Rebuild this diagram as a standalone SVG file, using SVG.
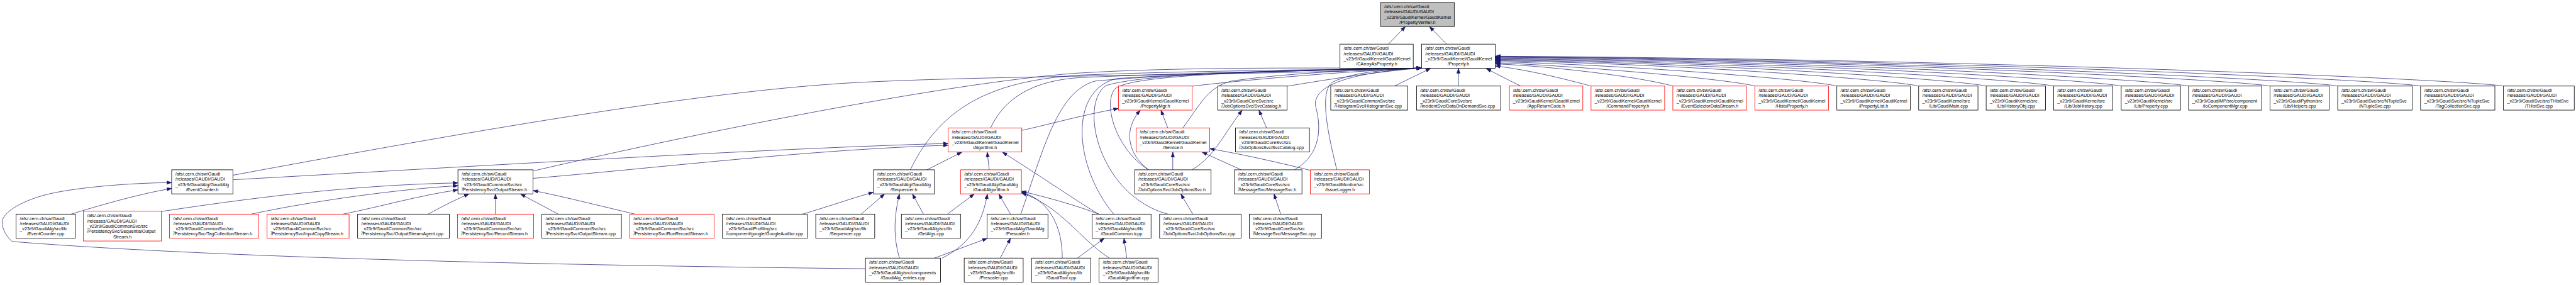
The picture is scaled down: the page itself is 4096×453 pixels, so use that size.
<svg xmlns="http://www.w3.org/2000/svg" width="4096" height="453" viewBox="0 0 4096 453">
<style>
.n rect{fill:#fff;stroke:#000;stroke-width:1.5}
.r rect{stroke:#ff0000}
.g rect{fill:#bfbfbf}
text{font-family:"Liberation Sans",Arial,Helvetica,sans-serif;font-size:13px;fill:#000}
.m{text-anchor:middle}
#edges path{fill:none;stroke:#191970;stroke-width:1.3;marker-end:url(#a)}
</style>
<defs>
<marker id="a" markerUnits="userSpaceOnUse" markerWidth="15" markerHeight="12" refX="14" refY="5.5" orient="auto" viewBox="0 0 15 12"><path d="M0,0.5 L14,5.5 L0,10.5 z" fill="#191970" stroke="#191970" stroke-width="1"/></marker>
</defs>
<rect width="4096" height="453" fill="#fff"/>
<g transform="scale(0.554788)">
<g id="edges">
<path d="M3979,126.5 L4028,76"/>
<path d="M4146,126.5 L4097,76"/>
<path d="M3996.5,246.5 L4100,196"/>
<path d="M4180,246.5 L4180,196"/>
<path d="M4359,246.5 C4330,233 4290,212 4260,196.5"/>
<path d="M4560,246.5 C4480,225 4380,200 4286,189"/>
<path d="M4794.5,246.5 C4700,220 4450,190 4286,183"/>
<path d="M5029.5,246.5 C4960,228 4550,190 4286,180"/>
<path d="M5264.5,246.5 C5190,228 4650,185 4286,177"/>
<path d="M5499,246.5 C5420,228 4800,182 4286,174"/>
<path d="M5692.5,246.5 C5610,228 4900,180 4286,172"/>
<path d="M5886,246.5 C5800,228 5000,178 4286,170"/>
<path d="M6079.5,246.5 C5990,228 5100,176 4286,168"/>
<path d="M6272.5,246.5 C6180,228 5200,174 4286,166"/>
<path d="M6506,246.5 C6400,228 5300,172 4286,164"/>
<path d="M6700,246.5 C6600,228 5400,171 4286,163"/>
<path d="M6937.5,246.5 C6830,228 5550,170 4286,162"/>
<path d="M7175,246.5 C7060,228 5700,169 4286,161"/>
<path d="M667.5,502 C1300,385 2000,260 2464,236 C2900,214 3700,215 4074,195"/>
<path d="M1527.4,490 C2000,380 2700,240 3080,210 C3400,190 3800,196 4074,195"/>
<path d="M2609,486.5 C2700,300 2850,230 3100,215 C3500,200 3850,200 4074,195"/>
<path d="M2839,366.5 C2880,280 2960,230 3100,222 C3500,205 3850,200 4074,195"/>
<path d="M2925.6,613.5 C2990,430 3030,260 3140,232 C3450,205 3850,200 4074,195"/>
<path d="M3192,613.5 C3080,480 3060,260 3200,225 C3500,205 3850,200 4074,195"/>
<path d="M3347,613.5 C3150,560 3090,300 3170,245 C3300,205 3800,200 4074,195"/>
<path d="M3292,486.5 C3200,430 3160,300 3195,255 C3240,210 3700,203 4074,195"/>
<path d="M3390,366.5 C3440,300 3460,250 3530,232 C3700,208 3900,200 4074,195"/>
<path d="M3416,247 C3600,225 3900,202 4074,195"/>
<path d="M3689,247 C3850,220 3980,202 4074,195"/>
<path d="M3710,486.5 C3790,440 3785,360 3772,310 C3755,250 3850,210 4074,194"/>
<path d="M3831.5,486.5 C3805,380 3780,260 3820,235 C3880,205 3980,200 4074,195"/>
<path d="M2928.4,373.6 C3000,358 3100,330 3205,311"/>
<path d="M667.5,515 C1300,480 2200,425 2717,411"/>
<path d="M1527.4,511 C1900,480 2300,430 2717,416"/>
<path d="M2480.5,770 C1800,762 700,745 35,692 C20,680 5,655 6,635 C8,610 60,572 157,552 C260,532 400,524 492,523"/>
<path d="M204,613.5 C280,590 400,555 492,540"/>
<path d="M462,606 C700,570 1000,530 1312.5,524"/>
<path d="M720,613.5 C850,585 1100,545 1312.5,532"/>
<path d="M983,613.5 C1100,590 1200,560 1312.5,544"/>
<path d="M1227,613.5 C1270,590 1310,570 1344,556"/>
<path d="M1420,613.5 L1420,556"/>
<path d="M1600,613.5 L1492,556"/>
<path d="M1820,613.5 C1700,585 1600,560 1528,546"/>
<path d="M2300,613.5 C2380,590 2450,565 2503,551"/>
<path d="M2468,613.5 L2535,556"/>
<path d="M2646.7,613.5 L2615.3,556"/>
<path d="M2578,739.5 C2560,680 2562,620 2578,556"/>
<path d="M2656.5,486.5 L2756.7,436"/>
<path d="M2835.3,486.5 L2829.4,436"/>
<path d="M2715.4,613.5 L2792,556"/>
<path d="M2896,613.5 L2862.7,556"/>
<path d="M2700,739.5 C2780,700 2815,640 2830,556"/>
<path d="M2678,739.5 L2829.4,683"/>
<path d="M2866.7,739.5 L2896,683"/>
<path d="M3149,613.5 C3100,585 2960,490 2873,436"/>
<path d="M3149,613.5 C3090,590 3000,565 2928,548"/>
<path d="M3044.6,739.5 C3045,640 3000,570 2928,551"/>
<path d="M3180,739.5 C3100,690 3040,590 2928,553"/>
<path d="M3292,486.5 C3230,440 3220,370 3268,316"/>
<path d="M3347,366.5 L3327.5,316"/>
<path d="M3361.3,486.5 L3361.3,436"/>
<path d="M3416,486.5 C3480,450 3510,380 3560,316"/>
<path d="M3630,366.5 L3608.4,316"/>
<path d="M3557.3,486.5 L3445.4,436"/>
<path d="M3670.5,613.5 L3651.6,556"/>
<path d="M3418.6,613.5 L3384.5,556"/>
<path d="M3229.3,739.5 L3221.4,683"/>
<path d="M3088,739.5 L3164.5,683"/>
<path d="M3755.5,488 C3650,462 3550,440 3467,426"/>
</g>
<g id="n_propverifier" class="n g"><rect x="3957" y="7" width="211" height="69"/><text><tspan x="3967.5" y="23.5">/afs/.cern.ch/sw/Gaudi</tspan><tspan x="3967.5" y="38.5">/releases/GAUDI/GAUDI</tspan><tspan x="3967.5" y="53.5">_v23r9/GaudiKernel/GaudiKernel</tspan><tspan class="m" x="4062.5" y="68.5">/PropertyVerifier.h</tspan></text></g>
<g id="n_carray" class="n"><rect x="3840.5" y="126.5" width="210" height="69"/><text><tspan x="3851" y="143">/afs/.cern.ch/sw/Gaudi</tspan><tspan x="3851" y="158">/releases/GAUDI/GAUDI</tspan><tspan x="3851" y="173">_v23r9/GaudiKernel/GaudiKernel</tspan><tspan class="m" x="3945.5" y="188">/CArrayAsProperty.h</tspan></text></g>
<g id="n_property" class="n"><rect x="4074.5" y="126.5" width="211" height="69"/><text><tspan x="4085" y="143">/afs/.cern.ch/sw/Gaudi</tspan><tspan x="4085" y="158">/releases/GAUDI/GAUDI</tspan><tspan x="4085" y="173">_v23r9/GaudiKernel/GaudiKernel</tspan><tspan class="m" x="4180" y="188">/Property.h</tspan></text></g>
<g id="n_propertymgr" class="n r"><rect x="3205.5" y="246.5" width="211" height="69"/><text><tspan x="3216" y="263">/afs/.cern.ch/sw/Gaudi</tspan><tspan x="3216" y="278">/releases/GAUDI/GAUDI</tspan><tspan x="3216" y="293">_v23r9/GaudiKernel/GaudiKernel</tspan><tspan class="m" x="3311" y="308">/PropertyMgr.h</tspan></text></g>
<g id="n_svccatalog_h" class="n"><rect x="3490" y="246.5" width="199" height="69"/><text><tspan x="3500.5" y="263">/afs/.cern.ch/sw/Gaudi</tspan><tspan x="3500.5" y="278">/releases/GAUDI/GAUDI</tspan><tspan x="3500.5" y="293">_v23r9/GaudiCoreSvc/src</tspan><tspan x="3500.5" y="308">/JobOptionsSvc/SvcCatalog.h</tspan></text></g>
<g id="n_histsvc" class="n"><rect x="3814" y="246.5" width="221" height="69"/><text><tspan x="3824.5" y="263">/afs/.cern.ch/sw/Gaudi</tspan><tspan x="3824.5" y="278">/releases/GAUDI/GAUDI</tspan><tspan x="3824.5" y="293">_v23r9/GaudiCommonSvc/src</tspan><tspan x="3824.5" y="308">/HistogramSvc/HistogramSvc.cpp</tspan></text></g>
<g id="n_dataondemand" class="n"><rect x="4060" y="246.5" width="241" height="69"/><text><tspan x="4070.5" y="263">/afs/.cern.ch/sw/Gaudi</tspan><tspan x="4070.5" y="278">/releases/GAUDI/GAUDI</tspan><tspan x="4070.5" y="293">_v23r9/GaudiCoreSvc/src</tspan><tspan x="4070.5" y="308">/IncidentSvc/DataOnDemandSvc.cpp</tspan></text></g>
<g id="n_appreturn" class="n r"><rect x="4326" y="246.5" width="210.5" height="69"/><text><tspan x="4336.5" y="263">/afs/.cern.ch/sw/Gaudi</tspan><tspan x="4336.5" y="278">/releases/GAUDI/GAUDI</tspan><tspan x="4336.5" y="293">_v23r9/GaudiKernel/GaudiKernel</tspan><tspan class="m" x="4431.25" y="308">/AppReturnCode.h</tspan></text></g>
<g id="n_commandprop" class="n r"><rect x="4560" y="246.5" width="211" height="69"/><text><tspan x="4570.5" y="263">/afs/.cern.ch/sw/Gaudi</tspan><tspan x="4570.5" y="278">/releases/GAUDI/GAUDI</tspan><tspan x="4570.5" y="293">_v23r9/GaudiKernel/GaudiKernel</tspan><tspan class="m" x="4665.5" y="308">/CommandProperty.h</tspan></text></g>
<g id="n_evtseldatastream" class="n r"><rect x="4794.5" y="246.5" width="211" height="69"/><text><tspan x="4805" y="263">/afs/.cern.ch/sw/Gaudi</tspan><tspan x="4805" y="278">/releases/GAUDI/GAUDI</tspan><tspan x="4805" y="293">_v23r9/GaudiKernel/GaudiKernel</tspan><tspan class="m" x="4900" y="308">/EventSelectorDataStream.h</tspan></text></g>
<g id="n_histoprop" class="n r"><rect x="5029.5" y="246.5" width="211" height="69"/><text><tspan x="5040" y="263">/afs/.cern.ch/sw/Gaudi</tspan><tspan x="5040" y="278">/releases/GAUDI/GAUDI</tspan><tspan x="5040" y="293">_v23r9/GaudiKernel/GaudiKernel</tspan><tspan class="m" x="5135" y="308">/HistoProperty.h</tspan></text></g>
<g id="n_proplist" class="n"><rect x="5264.5" y="246.5" width="210.5" height="69"/><text><tspan x="5275" y="263">/afs/.cern.ch/sw/Gaudi</tspan><tspan x="5275" y="278">/releases/GAUDI/GAUDI</tspan><tspan x="5275" y="293">_v23r9/GaudiKernel/GaudiKernel</tspan><tspan class="m" x="5369.75" y="308">/PropertyList.h</tspan></text></g>
<g id="n_gaudimain" class="n"><rect x="5499" y="246.5" width="170" height="69"/><text><tspan x="5509.5" y="263">/afs/.cern.ch/sw/Gaudi</tspan><tspan x="5509.5" y="278">/releases/GAUDI/GAUDI</tspan><tspan x="5509.5" y="293">_v23r9/GaudiKernel/src</tspan><tspan class="m" x="5584" y="308">/Lib/GaudiMain.cpp</tspan></text></g>
<g id="n_historyobj" class="n"><rect x="5692.5" y="246.5" width="170" height="69"/><text><tspan x="5703" y="263">/afs/.cern.ch/sw/Gaudi</tspan><tspan x="5703" y="278">/releases/GAUDI/GAUDI</tspan><tspan x="5703" y="293">_v23r9/GaudiKernel/src</tspan><tspan class="m" x="5777.5" y="308">/Lib/HistoryObj.cpp</tspan></text></g>
<g id="n_jobhistory" class="n"><rect x="5886" y="246.5" width="169.5" height="69"/><text><tspan x="5896.5" y="263">/afs/.cern.ch/sw/Gaudi</tspan><tspan x="5896.5" y="278">/releases/GAUDI/GAUDI</tspan><tspan x="5896.5" y="293">_v23r9/GaudiKernel/src</tspan><tspan class="m" x="5970.75" y="308">/Lib/JobHistory.cpp</tspan></text></g>
<g id="n_propertycpp" class="n"><rect x="6079.5" y="246.5" width="170" height="69"/><text><tspan x="6090" y="263">/afs/.cern.ch/sw/Gaudi</tspan><tspan x="6090" y="278">/releases/GAUDI/GAUDI</tspan><tspan x="6090" y="293">_v23r9/GaudiKernel/src</tspan><tspan class="m" x="6164.5" y="308">/Lib/Property.cpp</tspan></text></g>
<g id="n_iocomp" class="n"><rect x="6272.5" y="246.5" width="209.5" height="69"/><text><tspan x="6283" y="263">/afs/.cern.ch/sw/Gaudi</tspan><tspan x="6283" y="278">/releases/GAUDI/GAUDI</tspan><tspan x="6283" y="293">_v23r9/GaudiMP/src/component</tspan><tspan class="m" x="6377.25" y="308">/IoComponentMgr.cpp</tspan></text></g>
<g id="n_helpers" class="n"><rect x="6506" y="246.5" width="169.5" height="69"/><text><tspan x="6516.5" y="263">/afs/.cern.ch/sw/Gaudi</tspan><tspan x="6516.5" y="278">/releases/GAUDI/GAUDI</tspan><tspan x="6516.5" y="293">_v23r9/GaudiPython/src</tspan><tspan class="m" x="6590.75" y="308">/Lib/Helpers.cpp</tspan></text></g>
<g id="n_ntuplesvc" class="n"><rect x="6700" y="246.5" width="213.5" height="69"/><text><tspan x="6710.5" y="263">/afs/.cern.ch/sw/Gaudi</tspan><tspan x="6710.5" y="278">/releases/GAUDI/GAUDI</tspan><tspan x="6710.5" y="293">_v23r9/GaudiSvc/src/NTupleSvc</tspan><tspan class="m" x="6806.75" y="308">/NTupleSvc.cpp</tspan></text></g>
<g id="n_tagcolsvc" class="n"><rect x="6937.5" y="246.5" width="213" height="69"/><text><tspan x="6948" y="263">/afs/.cern.ch/sw/Gaudi</tspan><tspan x="6948" y="278">/releases/GAUDI/GAUDI</tspan><tspan x="6948" y="293">_v23r9/GaudiSvc/src/NTupleSvc</tspan><tspan class="m" x="7044" y="308">/TagCollectionSvc.cpp</tspan></text></g>
<g id="n_thistsvc" class="n"><rect x="7175" y="246.5" width="203" height="69"/><text><tspan x="7185.5" y="263">/afs/.cern.ch/sw/Gaudi</tspan><tspan x="7185.5" y="278">/releases/GAUDI/GAUDI</tspan><tspan x="7185.5" y="293">_v23r9/GaudiSvc/src/THistSvc</tspan><tspan class="m" x="7276.5" y="308">/THistSvc.cpp</tspan></text></g>
<g id="n_algorithm" class="n r"><rect x="2717.5" y="366.5" width="211" height="69"/><text><tspan x="2728" y="383">/afs/.cern.ch/sw/Gaudi</tspan><tspan x="2728" y="398">/releases/GAUDI/GAUDI</tspan><tspan x="2728" y="413">_v23r9/GaudiKernel/GaudiKernel</tspan><tspan class="m" x="2823" y="428">/Algorithm.h</tspan></text></g>
<g id="n_service" class="n r"><rect x="3256" y="366.5" width="211" height="69"/><text><tspan x="3266.5" y="383">/afs/.cern.ch/sw/Gaudi</tspan><tspan x="3266.5" y="398">/releases/GAUDI/GAUDI</tspan><tspan x="3266.5" y="413">_v23r9/GaudiKernel/GaudiKernel</tspan><tspan class="m" x="3361.5" y="428">/Service.h</tspan></text></g>
<g id="n_svccatalog_cpp" class="n"><rect x="3541" y="366.5" width="212" height="69"/><text><tspan x="3551.5" y="383">/afs/.cern.ch/sw/Gaudi</tspan><tspan x="3551.5" y="398">/releases/GAUDI/GAUDI</tspan><tspan x="3551.5" y="413">_v23r9/GaudiCoreSvc/src</tspan><tspan x="3551.5" y="428">/JobOptionsSvc/SvcCatalog.cpp</tspan></text></g>
<g id="n_eventcounter_h" class="n"><rect x="492" y="486.5" width="175.5" height="69"/><text><tspan x="502.5" y="503">/afs/.cern.ch/sw/Gaudi</tspan><tspan x="502.5" y="518">/releases/GAUDI/GAUDI</tspan><tspan x="502.5" y="533">_v23r9/GaudiAlg/GaudiAlg</tspan><tspan class="m" x="579.75" y="548">/EventCounter.h</tspan></text></g>
<g id="n_outputstream_h" class="n"><rect x="1312.5" y="486.5" width="215" height="69"/><text><tspan x="1323" y="503">/afs/.cern.ch/sw/Gaudi</tspan><tspan x="1323" y="518">/releases/GAUDI/GAUDI</tspan><tspan x="1323" y="533">_v23r9/GaudiCommonSvc/src</tspan><tspan x="1323" y="548">/PersistencySvc/OutputStream.h</tspan></text></g>
<g id="n_sequencer_h" class="n"><rect x="2503.5" y="486.5" width="174.5" height="69"/><text><tspan x="2514" y="503">/afs/.cern.ch/sw/Gaudi</tspan><tspan x="2514" y="518">/releases/GAUDI/GAUDI</tspan><tspan x="2514" y="533">_v23r9/GaudiAlg/GaudiAlg</tspan><tspan class="m" x="2590.75" y="548">/Sequencer.h</tspan></text></g>
<g id="n_gaudialgorithm_h" class="n r"><rect x="2753" y="486.5" width="174.5" height="69"/><text><tspan x="2763.5" y="503">/afs/.cern.ch/sw/Gaudi</tspan><tspan x="2763.5" y="518">/releases/GAUDI/GAUDI</tspan><tspan x="2763.5" y="533">_v23r9/GaudiAlg/GaudiAlg</tspan><tspan class="m" x="2840.25" y="548">/GaudiAlgorithm.h</tspan></text></g>
<g id="n_joboptionssvc_h" class="n"><rect x="3252" y="486.5" width="219" height="69"/><text><tspan x="3262.5" y="503">/afs/.cern.ch/sw/Gaudi</tspan><tspan x="3262.5" y="518">/releases/GAUDI/GAUDI</tspan><tspan x="3262.5" y="533">_v23r9/GaudiCoreSvc/src</tspan><tspan x="3262.5" y="548">/JobOptionsSvc/JobOptionsSvc.h</tspan></text></g>
<g id="n_messagesvc_h" class="n"><rect x="3538" y="486.5" width="193.5" height="69"/><text><tspan x="3548.5" y="503">/afs/.cern.ch/sw/Gaudi</tspan><tspan x="3548.5" y="518">/releases/GAUDI/GAUDI</tspan><tspan x="3548.5" y="533">_v23r9/GaudiCoreSvc/src</tspan><tspan x="3548.5" y="548">/MessageSvc/MessageSvc.h</tspan></text></g>
<g id="n_issuelogger" class="n r"><rect x="3755.5" y="486.5" width="169.5" height="69"/><text><tspan x="3766" y="503">/afs/.cern.ch/sw/Gaudi</tspan><tspan x="3766" y="518">/releases/GAUDI/GAUDI</tspan><tspan x="3766" y="533">_v23r9/GaudiMonitor/src</tspan><tspan class="m" x="3840.25" y="548">/IssueLogger.h</tspan></text></g>
<g id="n_eventcounter_cpp" class="n"><rect x="46" y="613.5" width="170" height="69"/><text><tspan x="56.5" y="630">/afs/.cern.ch/sw/Gaudi</tspan><tspan x="56.5" y="645">/releases/GAUDI/GAUDI</tspan><tspan x="56.5" y="660">_v23r9/GaudiAlg/src/lib</tspan><tspan class="m" x="131" y="675">/EventCounter.cpp</tspan></text></g>
<g id="n_seqoutstream" class="n r"><rect x="239" y="605" width="223.5" height="85.5"/><text><tspan x="249.5" y="622.25">/afs/.cern.ch/sw/Gaudi</tspan><tspan x="249.5" y="637.25">/releases/GAUDI/GAUDI</tspan><tspan x="249.5" y="652.25">_v23r9/GaudiCommonSvc/src</tspan><tspan x="249.5" y="667.25">/PersistencySvc/SequentialOutput</tspan><tspan class="m" x="350.75" y="682.25">Stream.h</tspan></text></g>
<g id="n_tagcolstream" class="n r"><rect x="486" y="613.5" width="255" height="69"/><text><tspan x="496.5" y="630">/afs/.cern.ch/sw/Gaudi</tspan><tspan x="496.5" y="645">/releases/GAUDI/GAUDI</tspan><tspan x="496.5" y="660">_v23r9/GaudiCommonSvc/src</tspan><tspan x="496.5" y="675">/PersistencySvc/TagCollectionStream.h</tspan></text></g>
<g id="n_inputcopy" class="n r"><rect x="765.5" y="613.5" width="235" height="69"/><text><tspan x="776" y="630">/afs/.cern.ch/sw/Gaudi</tspan><tspan x="776" y="645">/releases/GAUDI/GAUDI</tspan><tspan x="776" y="660">_v23r9/GaudiCommonSvc/src</tspan><tspan x="776" y="675">/PersistencySvc/InputCopyStream.h</tspan></text></g>
<g id="n_outstreamagent" class="n"><rect x="1025" y="613.5" width="263" height="69"/><text><tspan x="1035.5" y="630">/afs/.cern.ch/sw/Gaudi</tspan><tspan x="1035.5" y="645">/releases/GAUDI/GAUDI</tspan><tspan x="1035.5" y="660">_v23r9/GaudiCommonSvc/src</tspan><tspan x="1035.5" y="675">/PersistencySvc/OutputStreamAgent.cpp</tspan></text></g>
<g id="n_recordstream" class="n r"><rect x="1311.5" y="613.5" width="218" height="69"/><text><tspan x="1322" y="630">/afs/.cern.ch/sw/Gaudi</tspan><tspan x="1322" y="645">/releases/GAUDI/GAUDI</tspan><tspan x="1322" y="660">_v23r9/GaudiCommonSvc/src</tspan><tspan x="1322" y="675">/PersistencySvc/RecordStream.h</tspan></text></g>
<g id="n_outputstream_cpp" class="n"><rect x="1553" y="613.5" width="228" height="69"/><text><tspan x="1563.5" y="630">/afs/.cern.ch/sw/Gaudi</tspan><tspan x="1563.5" y="645">/releases/GAUDI/GAUDI</tspan><tspan x="1563.5" y="660">_v23r9/GaudiCommonSvc/src</tspan><tspan x="1563.5" y="675">/PersistencySvc/OutputStream.cpp</tspan></text></g>
<g id="n_runrecord" class="n r"><rect x="1805" y="613.5" width="241.5" height="69"/><text><tspan x="1815.5" y="630">/afs/.cern.ch/sw/Gaudi</tspan><tspan x="1815.5" y="645">/releases/GAUDI/GAUDI</tspan><tspan x="1815.5" y="660">_v23r9/GaudiCommonSvc/src</tspan><tspan x="1815.5" y="675">/PersistencySvc/RunRecordStream.h</tspan></text></g>
<g id="n_google" class="n"><rect x="2070.5" y="613.5" width="243" height="69"/><text><tspan x="2081" y="630">/afs/.cern.ch/sw/Gaudi</tspan><tspan x="2081" y="645">/releases/GAUDI/GAUDI</tspan><tspan x="2081" y="660">_v23r9/GaudiProfiling/src</tspan><tspan x="2081" y="675">/component/google/GoogleAuditor.cpp</tspan></text></g>
<g id="n_sequencer_cpp" class="n"><rect x="2338" y="613.5" width="169" height="69"/><text><tspan x="2348.5" y="630">/afs/.cern.ch/sw/Gaudi</tspan><tspan x="2348.5" y="645">/releases/GAUDI/GAUDI</tspan><tspan x="2348.5" y="660">_v23r9/GaudiAlg/src/lib</tspan><tspan class="m" x="2422.5" y="675">/Sequencer.cpp</tspan></text></g>
<g id="n_getalgs" class="n"><rect x="2583.5" y="613.5" width="169.5" height="69"/><text><tspan x="2594" y="630">/afs/.cern.ch/sw/Gaudi</tspan><tspan x="2594" y="645">/releases/GAUDI/GAUDI</tspan><tspan x="2594" y="660">_v23r9/GaudiAlg/src/lib</tspan><tspan class="m" x="2668.25" y="675">/GetAlgs.cpp</tspan></text></g>
<g id="n_prescaler_h" class="n"><rect x="2829" y="613.5" width="174.5" height="69"/><text><tspan x="2839.5" y="630">/afs/.cern.ch/sw/Gaudi</tspan><tspan x="2839.5" y="645">/releases/GAUDI/GAUDI</tspan><tspan x="2839.5" y="660">_v23r9/GaudiAlg/GaudiAlg</tspan><tspan class="m" x="2916.25" y="675">/Prescaler.h</tspan></text></g>
<g id="n_gaudicommon" class="n"><rect x="3130" y="613.5" width="169" height="69"/><text><tspan x="3140.5" y="630">/afs/.cern.ch/sw/Gaudi</tspan><tspan x="3140.5" y="645">/releases/GAUDI/GAUDI</tspan><tspan x="3140.5" y="660">_v23r9/GaudiAlg/src/lib</tspan><tspan class="m" x="3214.5" y="675">/GaudiCommon.icpp</tspan></text></g>
<g id="n_joboptionssvc_cpp" class="n"><rect x="3323.5" y="613.5" width="233.5" height="69"/><text><tspan x="3334" y="630">/afs/.cern.ch/sw/Gaudi</tspan><tspan x="3334" y="645">/releases/GAUDI/GAUDI</tspan><tspan x="3334" y="660">_v23r9/GaudiCoreSvc/src</tspan><tspan x="3334" y="675">/JobOptionsSvc/JobOptionsSvc.cpp</tspan></text></g>
<g id="n_messagesvc_cpp" class="n"><rect x="3580.5" y="613.5" width="207" height="69"/><text><tspan x="3591" y="630">/afs/.cern.ch/sw/Gaudi</tspan><tspan x="3591" y="645">/releases/GAUDI/GAUDI</tspan><tspan x="3591" y="660">_v23r9/GaudiCoreSvc/src</tspan><tspan x="3591" y="675">/MessageSvc/MessageSvc.cpp</tspan></text></g>
<g id="n_gaudialg_entries" class="n"><rect x="2480.5" y="739.5" width="215" height="69"/><text><tspan x="2491" y="756">/afs/.cern.ch/sw/Gaudi</tspan><tspan x="2491" y="771">/releases/GAUDI/GAUDI</tspan><tspan x="2491" y="786">_v23r9/GaudiAlg/src/components</tspan><tspan class="m" x="2588" y="801">/GaudiAlg_entries.cpp</tspan></text></g>
<g id="n_prescaler_cpp" class="n"><rect x="2763.5" y="739.5" width="169" height="69"/><text><tspan x="2774" y="756">/afs/.cern.ch/sw/Gaudi</tspan><tspan x="2774" y="771">/releases/GAUDI/GAUDI</tspan><tspan x="2774" y="786">_v23r9/GaudiAlg/src/lib</tspan><tspan class="m" x="2848" y="801">/Prescaler.cpp</tspan></text></g>
<g id="n_gauditool" class="n"><rect x="2956.5" y="739.5" width="169.5" height="69"/><text><tspan x="2967" y="756">/afs/.cern.ch/sw/Gaudi</tspan><tspan x="2967" y="771">/releases/GAUDI/GAUDI</tspan><tspan x="2967" y="786">_v23r9/GaudiAlg/src/lib</tspan><tspan class="m" x="3041.25" y="801">/GaudiTool.cpp</tspan></text></g>
<g id="n_gaudialgorithm_cpp" class="n"><rect x="3150" y="739.5" width="169" height="69"/><text><tspan x="3160.5" y="756">/afs/.cern.ch/sw/Gaudi</tspan><tspan x="3160.5" y="771">/releases/GAUDI/GAUDI</tspan><tspan x="3160.5" y="786">_v23r9/GaudiAlg/src/lib</tspan><tspan class="m" x="3234.5" y="801">/GaudiAlgorithm.cpp</tspan></text></g>
</g>
</svg>
